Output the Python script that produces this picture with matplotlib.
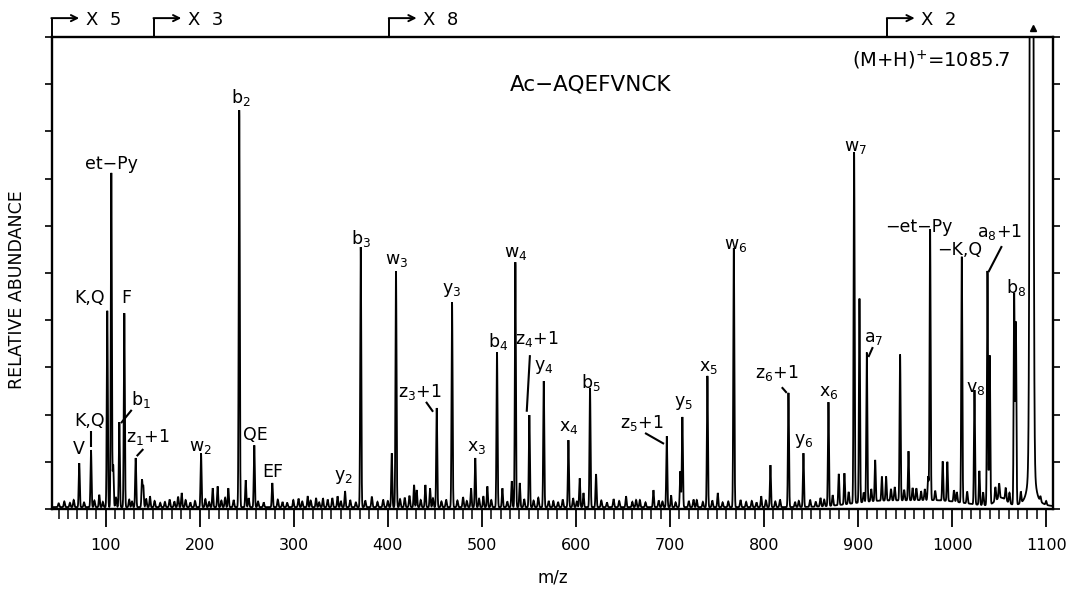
import numpy as np
import matplotlib
matplotlib.use("Agg")
import matplotlib.pyplot as plt
from matplotlib.transforms import blended_transform_factory

# ---------------- data ----------------
# main fragment peaks: m/z and relative abundance (%)
peak_mz = [71.9, 84.4, 93.2, 101.7, 106.0, 108.0, 114.5, 119.8, 131.9, 138.6,
           140.0, 147.1, 180.8, 201.4, 213.8, 219.0, 230.4, 242.0, 248.9, 258.0,
           277.2, 299.5, 314.8, 323.7, 331.0, 346.5, 354.5, 371.2, 404.2, 408.7,
           427.9, 430.7, 439.9, 444.9, 452.0, 468.3, 488.5, 493.0, 501.6, 505.8,
           516.1, 521.8, 531.8, 535.6, 540.3, 550.5, 565.8, 576.0, 592.0, 604.0,
           608.0, 615.0, 621.4, 653.3, 668.0, 682.4, 696.6, 701.2, 711.0, 713.2,
           728.5, 739.8, 750.8, 767.9, 797.0, 806.8, 826.0, 841.9, 868.5, 879.5,
           885.5, 895.8, 901.5, 909.3, 918.2, 925.3, 929.8, 944.7, 953.6, 967.0,
           974.5, 976.6, 990.0, 994.9, 1010.3, 1023.8, 1029.0, 1037.6, 1040.0, 1066.0,
           1067.8]
peak_int = [9.3, 12.1, 2.6, 41.6, 70.8, 8.9, 18.0, 41.1, 10.4, 5.7,
            4.4, 2.3, 3.0, 11.4, 4.0, 4.4, 4.0, 84.1, 5.7, 13.1,
            5.1, 1.5, 2.3, 1.9, 1.9, 2.3, 3.4, 55.1, 11.4, 50.0,
            4.7, 3.6, 4.7, 4.0, 21.0, 43.4, 4.0, 10.4, 2.3, 4.4,
            32.8, 4.0, 5.5, 51.9, 5.1, 19.5, 26.7, 1.3, 14.2, 6.1,
            3.0, 25.2, 7.0, 2.3, 1.5, 3.6, 15.0, 2.5, 7.6, 19.1,
            1.5, 27.8, 3.0, 54.9, 2.3, 8.9, 24.2, 11.4, 22.0, 6.6,
            6.6, 74.4, 43.2, 31.6, 8.7, 5.1, 5.1, 30.9, 10.4, 1.9,
            5.0, 57.4, 8.3, 8.3, 52.1, 24.2, 7.2, 49.6, 31.6, 44.7,
            38.6]

# small baseline peaks (grass)
noise_mz = [50, 56, 62, 66, 77, 88, 97, 111, 125, 128, 143, 152, 158, 163, 168,
            173, 177, 185, 190, 195, 206, 210, 223, 227, 236, 252, 262, 268, 283,
            288, 293, 305, 309, 318, 327, 336, 341, 350, 360, 366, 376, 383, 389,
            395, 400, 413, 418, 423, 435, 448, 457, 462, 474, 480, 484, 497, 510,
            527, 545, 555, 560, 571, 581, 586, 597, 601, 627, 633, 640, 646, 660,
            664, 674, 688, 692, 706, 720, 725, 735, 745, 756, 762, 775, 781, 787,
            792, 802, 812, 817, 833, 837, 849, 855, 860, 864, 873, 890, 906, 914,
            935, 939, 949, 958, 962, 971, 982, 1002, 1005, 1016, 1033, 1046, 1050,
            1057, 1061, 1073, 1094, 1100]
noise_int = [0.8, 1.2, 0.9, 1.5, 1.0, 1.4, 1.1, 2.0, 1.6, 1.2, 1.8, 1.3, 0.9, 1.1, 1.6,
             1.2, 2.2, 1.5, 1.0, 1.3, 1.7, 1.1, 1.4, 2.0, 1.5, 1.9, 1.2, 1.0, 1.6,
             1.1, 0.9, 1.8, 1.2, 1.4, 1.0, 1.6, 1.9, 1.3, 1.5, 1.0, 1.4, 2.2, 1.1,
             1.6, 1.3, 1.7, 2.0, 2.4, 1.5, 1.9, 1.2, 1.6, 1.4, 2.1, 1.3, 1.8, 1.5,
             1.2, 1.7, 1.4, 2.0, 1.3, 1.1, 1.6, 1.9, 1.2, 1.4, 1.0, 1.7, 1.3, 1.1,
             1.5, 1.0, 1.4, 1.2, 1.0, 1.3, 1.6, 1.1, 1.4, 1.0, 1.2, 1.5, 1.1, 1.3,
             1.0, 1.4, 1.2, 1.6, 1.1, 1.3, 1.5, 1.0, 1.8, 1.4, 2.2, 2.5, 2.0, 2.6,
             2.4, 2.8, 2.2, 2.6, 2.5, 2.3, 2.0, 2.4, 2.1, 2.5, 2.7, 2.9, 3.1,
             2.6, 2.2, 2.4, 1.0, 0.8]

# broad humps of the raised baseline
hump_mz = [922.0, 985.0, 1052.0]
hump_int = [1.2, 1.3, 1.8]
hump_w = [30.0, 30.0, 6.0]

# molecular ion (off scale)
parent_mz = 1084.5
parent_int = 400.0

# peak annotations: text, m/z, height (%)
label_text = ["V", "K,Q", "K,Q", "F", "et\u2212Py", "b$_1$", "z$_1$+1", "w$_2$",
              "b$_2$", "QE", "EF", "y$_2$", "b$_3$", "w$_3$", "z$_3$+1", "y$_3$",
              "x$_3$", "b$_4$", "w$_4$", "z$_4$+1", "y$_4$", "x$_4$", "b$_5$",
              "z$_5$+1", "y$_5$", "x$_5$", "w$_6$", "z$_6$+1", "y$_6$", "x$_6$",
              "w$_7$", "a$_7$", "\u2212et\u2212Py", "\u2212K,Q", "a$_8$+1", "v$_8$", "b$_8$"]
label_mz = [71.6, 83.3, 83.3, 121.6, 105.6, 137.5, 144.5, 200.3,
            243.5, 258.8, 277.9, 352.4, 371.0, 409.5, 434.3, 468.0,
            494.5, 517.0, 536.0, 558.7, 566.0, 592.5, 615.8,
            670.3, 714.8, 741.3, 770.0, 813.9, 842.3, 869.0,
            897.5, 916.8, 964.9, 1008.5, 1050.2, 1025.5, 1068.0]
label_h = [12.7, 18.6, 44.7, 44.7, 73.1, 23.1, 15.3, 13.1,
           87.1, 15.7, 7.8, 6.8, 57.4, 52.8, 24.8, 46.4,
           13.1, 35.4, 54.2, 36.0, 30.1, 17.4, 26.9,
           18.2, 22.5, 30.1, 55.9, 28.8, 14.4, 24.8,
           76.7, 36.2, 59.7, 54.9, 58.7, 25.6, 47.0]

# leader lines (from label towards peak)
leader_mz0 = [127.7, 140.0, 440.6, 551.1, 673.5, 818.9, 915.7, 1052.9, 84.4]
leader_h0 = [21.0, 12.7, 22.7, 32.6, 16.1, 25.8, 34.3, 55.7, 16.6]
leader_mz1 = [116.3, 133.0, 448.1, 547.7, 693.7, 824.2, 911.0, 1038.6, 84.4]
leader_h1 = [18.2, 11.2, 20.6, 20.6, 13.8, 24.6, 32.2, 50.2, 13.2]

# magnification marks along the top
mag_mz = [42.8, 151.4, 401.6, 931.2]
mag_text = ["X  5", "X  3", "X  8", "X  2"]

x_min, x_max = 42.6, 1107.6
y_min, y_max = 0.0, 100.0

# ---------------- figure ----------------
fig = plt.figure(figsize=(10.69, 5.89), dpi=100)
ax = fig.add_axes([51.7 / 1069, 80 / 589, (1053.3 - 51.7) / 1069, 472 / 589])

grid = np.arange(x_min - 2, x_max + 2, 0.1)
spec = np.full_like(grid, 0.4)
sig = 0.55
for m, h in zip(peak_mz, peak_int):
    spec += h * np.exp(-0.5 * ((grid - m) / sig) ** 2)
for m, h in zip(noise_mz, noise_int):
    spec += h * np.exp(-0.5 * ((grid - m) / 0.6) ** 2)
for m, h, w in zip(hump_mz, hump_int, hump_w):
    spec += h * np.exp(-0.5 * ((grid - m) / w) ** 2)
spec += parent_int * np.exp(-0.5 * ((grid - parent_mz) / 1.2) ** 2)
spec += 30.0 / (1 + ((grid - parent_mz) / 2.0) ** 2)

ax.plot(grid, spec, color="black", lw=1.3, solid_joinstyle="miter")

ax.set_xlim(x_min, x_max)
ax.set_ylim(y_min, y_max)

for s in ax.spines.values():
    s.set_linewidth(1.7)

ax.set_xticks(np.arange(100, 1101, 100))
ax.set_xticks(np.arange(50, 1101, 10), minor=True)
ax.set_yticks(np.arange(0, 101, 10))
ax.set_yticklabels([])
ax.tick_params(axis="x", which="major", direction="out", length=13, width=1.3,
               labelsize=11.5, pad=8)
ax.tick_params(axis="x", which="minor", direction="out", length=7, width=1.1)
ax.tick_params(axis="y", which="major", direction="out", length=5, width=1.2,
               left=True, right=True, labelleft=False)

ax.set_xlabel("m/z", fontsize=12)
ax.xaxis.set_label_coords(0.5, -0.145)
ax.xaxis.label.set_va("center")
ax.set_ylabel("RELATIVE ABUNDANCE", fontsize=12.5)
ax.yaxis.set_label_coords(-0.035, 0.464)
ax.yaxis.label.set_va("center")

# peak labels
for t, m, h in zip(label_text, label_mz, label_h):
    ax.text(m, h, t, ha="center", va="center", fontsize=12.5)

for a, b, c, d in zip(leader_mz0, leader_h0, leader_mz1, leader_h1):
    ax.plot([a, c], [b, d], color="black", lw=1.5, solid_capstyle="butt")

ax.text(616.1, 90.0, "Ac\u2212AQEFVNCK", ha="center", va="center", fontsize=15.5)
ax.text(977.7, 95.0, "(M+H)$^{+}$=1085.7", ha="center", va="center", fontsize=14)

# magnification brackets above the frame
trans = blended_transform_factory(ax.transData, ax.transAxes)
for m, t in zip(mag_mz, mag_text):
    ax.plot([m, m], [1.0, 1.04], transform=trans, color="black", lw=1.4,
            clip_on=False, solid_capstyle="butt")
    ax.annotate("", xy=(m + 29.0, 1.04), xytext=(m - 0.6, 1.04),
                xycoords=trans, textcoords=trans,
                arrowprops=dict(arrowstyle="->", lw=1.4, color="black",
                                shrinkA=0, shrinkB=0, mutation_scale=11))
    ax.text(m + 36.0, 1.037, t, transform=trans, ha="left", va="center",
            fontsize=13, clip_on=False)

# off-scale marker above the molecular ion
ax.plot([parent_mz + 1.0], [1.02], transform=trans, marker="^", ms=5,
        color="black", clip_on=False)

fig.savefig("out.png", dpi=100)
